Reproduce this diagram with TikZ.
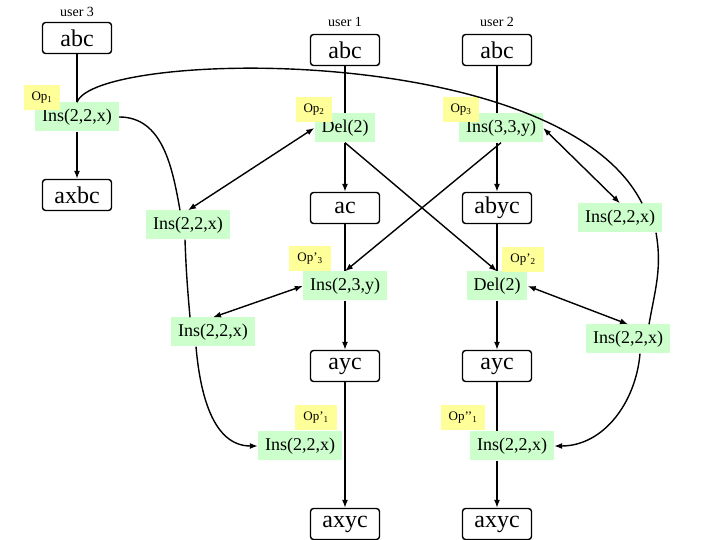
\documentclass[tikz,border=0pt]{standalone}
\usepackage{fontspec}
\setmainfont{Liberation Serif}
\usetikzlibrary{arrows.meta,positioning}
\definecolor{opgreen}{RGB}{204,255,204}
\definecolor{opyellow}{RGB}{255,255,153}
\tikzset{
  doc/.style={draw,rounded corners=3pt,line width=1.4pt,minimum width=69pt,
    minimum height=31pt,inner sep=0pt,font=\fontsize{24}{26}\selectfont},
  op/.style={fill=opgreen,minimum height=29pt,inner xsep=7pt,inner ysep=0pt,
    font=\fontsize{18}{20}\selectfont},
  tag/.style={fill=opyellow,minimum height=25pt,inner xsep=8pt,inner ysep=0pt,
    font=\fontsize{13}{15}\selectfont},
  user/.style={font=\fontsize{14}{16}\selectfont},
  seg/.style={line width=1.4pt},
  flow/.style={seg,-{Latex[length=8pt,width=6pt]}},
  link/.style={seg,{Latex[length=8pt,width=6pt]}-{Latex[length=8pt,width=6pt]}}
}
\begin{document}
\begin{tikzpicture}[x=1pt,y=1pt]
      \useasboundingbox (0,0) rectangle (720,540);
      \node[user] (u3) at (77,528) {user 3};
      \node[user] (u1) at (345,518) {user 1};
      \node[user] (u2) at (497,518) {user 2};
      \node[doc] (abc3) at (77,502) {abc};
      \node[doc] (abc1) at (345,490) {abc};
      \node[doc] (abc2) at (497,490) {abc};
      \node[op] (ins1) at (77,423) {Ins(2,2,x)};
      \node[doc] (axbc) at (77,345) {axbc};
      \node[op] (del1) at (345,412) {Del(2)};
      \node[op] (ins3) at (501,412) {Ins(3,3,y)};
      \node[doc] (ac) at (345,332) {ac};
      \node[doc] (abyc) at (497,332) {abyc};
      \node[op] (xa) at (188,315) {Ins(2,2,x)};
      \node[op] (xc) at (620,322) {Ins(2,2,x)};
      \node[op] (ins23) at (345,254) {Ins(2,3,y)};
      \node[op] (del2) at (497,254) {Del(2)};
      \node[op] (xb) at (213,208) {Ins(2,2,x)};
      \node[op] (xd) at (628,201) {Ins(2,2,x)};
      \node[doc] (ayc1) at (345,174) {ayc};
      \node[doc] (ayc2) at (497,174) {ayc};
      \node[op] (insL) at (300,94) {Ins(2,2,x)};
      \node[op] (insR) at (512,94) {Ins(2,2,x)};
      \node[doc] (axyc1) at (345,16) {axyc};
      \node[doc] (axyc2) at (497,16) {axyc};
      \node[tag] (op1) at (42,442) {Op\textsubscript{1}};
      \node[tag] (op2) at (314,430) {Op\textsubscript{2}};
      \node[tag] (op3) at (461,430) {Op\textsubscript{3}};
      \node[tag] (op3p) at (310,281) {Op’\textsubscript{3}};
      \node[tag] (op2p) at (523,280) {Op’\textsubscript{2}};
      \node[tag] (op1p) at (316,122) {Op’\textsubscript{1}};
      \node[tag] (op1pp) at (463,122) {Op’’\textsubscript{1}};
      \draw[seg] (abc3) -- (ins1);
      \draw[flow] (ins1) -- (axbc);
      \draw[seg] (abc1) -- (del1);
      \draw[flow] (del1) -- (ac);
      \draw[seg] (ac) -- (ins23);
      \draw[flow] (ins23) -- (ayc1);
      \draw[flow] (ayc1) -- (axyc1);
      \draw[seg] (abc2) -- (abc2 |- ins3.north);
      \draw[flow] (abc2 |- ins3.south) -- (abyc);
      \draw[seg] (abyc) -- (del2);
      \draw[flow] (del2) -- (ayc2);
      \draw[seg] (ayc2) -- (ayc2 |- insR.north);
      \draw[flow] (ayc2 |- insR.south) -- (axyc2);
      \draw[flow] (del1.south) -- (del2.north);
      \draw[flow] (ins3.south) -- (ins23.north);
      \draw[link] (del1.west) -- (xa.north);
      \draw[link] (ins3.east) -- (xc.north);
      \draw[link] (ins23.west) -- (xb.north);
      \draw[link] (del2.east) -- (xd.north);
      \draw[seg] (ins1.east) to[out=0,in=100] ([xshift=-8pt]xa.north);
      \draw[seg] ([xshift=-3pt]xa.south) to[out=-88,in=95] ([xshift=-23pt]xb.north);
      \draw[flow] ([xshift=-17pt]xb.south) to[out=-85,in=180] (insL.west);
      \draw[seg] (ins1.north) .. controls (95,490) and (560,500) .. ([xshift=22pt]xc.north);
      \draw[seg] ([xshift=36pt]xc.south) to[out=-80,in=80] ([xshift=21pt]xd.north);
      \draw[flow] ([xshift=12pt]xd.south) to[out=-95,in=0] (insR.east);
\end{tikzpicture}
\end{document}
